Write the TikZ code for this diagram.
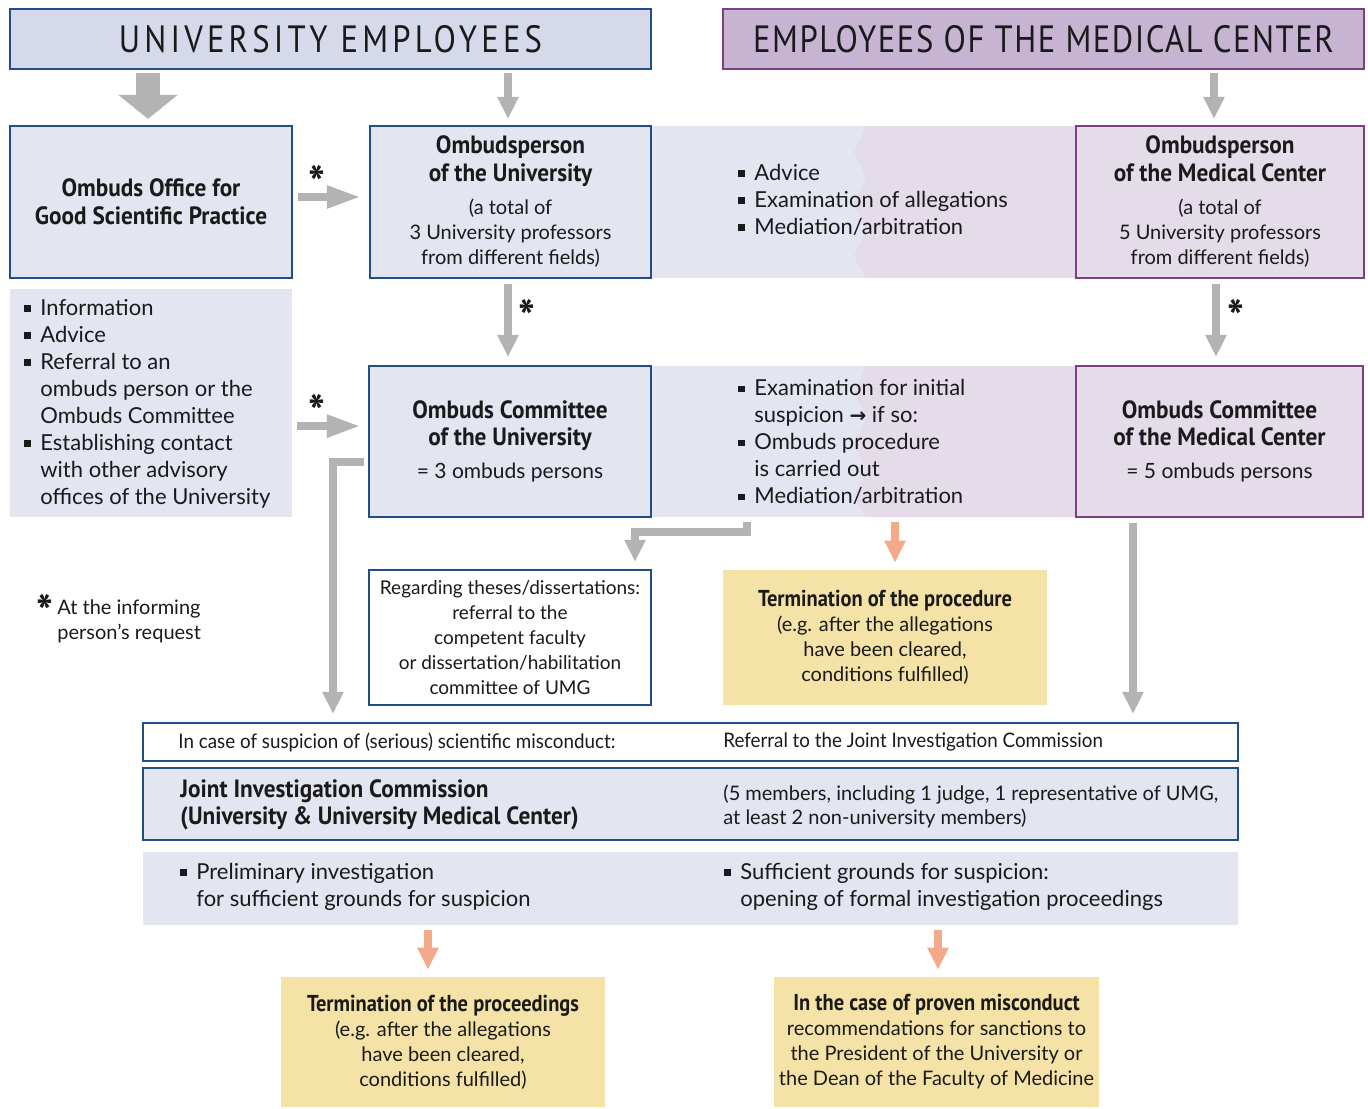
\documentclass[tikz,border=0pt]{standalone}
\usepackage{fontspec}
\setmainfont{Lato}
\newfontfamily\tfont{PT Sans}[FakeStretch=0.93]
\newfontfamily\yfont{PT Sans}[FakeStretch=0.89]
\newfontfamily\hfont{PT Sans}[FakeStretch=0.86,LetterSpace=11]
\newfontfamily\hfontb{PT Sans}[FakeStretch=0.86,LetterSpace=4]
\newfontfamily\cfont{Lato}[FakeStretch=0.94]
\newfontfamily\dvfont{DejaVu Sans}
\usetikzlibrary{arrows.meta}
\definecolor{bblue}{HTML}{1F4E89}
\definecolor{bpurp}{HTML}{7E3F82}
\definecolor{fblue}{HTML}{E3E5F0}
\definecolor{hblue}{HTML}{D6D9EA}
\definecolor{hpurp}{HTML}{C7B4D2}
\definecolor{fpurp}{HTML}{E5DCEA}
\definecolor{fyel}{HTML}{F5E2A6}
\definecolor{agrey}{HTML}{B3B3B3}
\definecolor{asal}{HTML}{F4A98B}
\definecolor{tx}{HTML}{1A1A1A}
\newcommand\mybul{\makebox[8pt][l]{\rule[1.6pt]{3.3pt}{3.3pt}}}
\newcommand\myind{\hspace*{8pt}}
\newcommand\mybt[1]{{\tfont\bfseries\fontsize{12.5}{14}\selectfont #1}}
\newcommand\myyt[1]{{\yfont\bfseries\fontsize{11.5}{14}\selectfont #1}}
\newcommand\mysm[1]{{\fontsize{10}{12.5}\selectfont #1}}
\newcommand\mymd[1]{{\fontsize{10.5}{13}\selectfont #1}}
\newcommand\mystar{{\tfont\bfseries\fontsize{24}{24}\selectfont *}}
\tikzset{
 every node/.style={inner sep=0pt, text=tx},
 ubox/.style={draw=bblue, fill=fblue, line width=1.1pt, align=center},
 mbox/.style={draw=bpurp, fill=fpurp, line width=1.1pt, align=center},
 ybox/.style={fill=fyel, align=center},
 wbox/.style={draw=bblue, fill=white, line width=1.1pt, align=center},
 sz/.style 2 args={minimum width=#1*0.5pt, minimum height=#2*0.5pt},
 ga/.style={draw=agrey, line width=4pt, -{Triangle[width=10pt,length=11pt]}},
 gah/.style={draw=agrey, line width=4pt, -{Triangle[width=10.5pt,length=17pt]}},
 gbig/.style={draw=agrey, line width=12pt, -{Triangle[width=29pt,length=12pt]}},
 sa/.style={draw=asal, line width=4pt, -{Triangle[width=10pt,length=11pt]}},
 lst/.style={align=left, anchor=west},
 smallf/.style={font=\fontsize{10}{12.5}\selectfont},
}
\begin{document}
\begin{tikzpicture}[x=0.5pt,y=-0.5pt, font=\fontsize{11}{13.5}\selectfont]
\useasboundingbox (0,0) rectangle (1368,1108);
% headers
\node[draw=bblue, fill=hblue, line width=1.1pt, sz={641}{60}] (hu) at (330.5,39)
  {\hfont\fontsize{19}{19}\selectfont UNIVERSITY EMPLOYEES};
\node[draw=bpurp, fill=hpurp, line width=1.1pt, sz={641}{60}] (hm) at (1043.5,39)
  {\hfontb\fontsize{19}{19}\selectfont EMPLOYEES OF THE MEDICAL CENTER};
% bands
\node[fill=fblue, sz={425}{152}] (band1) at (863.5,202) {};
\fill[fpurp] (1076,126) -- (866,126) -- (854,152) -- (866,178) -- (854,204) -- (866,230) -- (854,256) -- (866,278) -- (1076,278) -- cycle;
\node[fill=fblue, sz={425}{151}] (band2) at (863.5,441.5) {};
\fill[fpurp] (1076,366) -- (866,366) -- (854,392) -- (866,418) -- (854,444) -- (866,470) -- (854,496) -- (866,517) -- (1076,517) -- cycle;
\node[fill=fblue, sz={282}{228}] (info) at (151,403) {};
\node[fill=fblue, sz={1095}{73}] (pi) at (690.5,888.5) {};
% boxes
\node[ubox, sz={282}{152}, font=\fontsize{11}{14}\selectfont] (oo) at (151,202) {\mybt{Ombuds Office for}\\\mybt{Good Scientific Practice}};
\node[ubox, sz={281}{152}, smallf] (ou) at (510.5,202)
  {\mybt{Ombudsperson}\\[1.5pt]\mybt{of the University}\\[4pt]\mysm{(a total of}\\\mysm{3 University professors}\\\mysm{from different fields)}};
\node[mbox, sz={288}{152}, smallf] (om) at (1220,202)
  {\mybt{Ombudsperson}\\[1.5pt]\mybt{of the Medical Center}\\[4pt]\mysm{(a total of}\\\mysm{5 University professors}\\\mysm{from different fields)}};
\node[ubox, sz={282}{151}] (cu) at (510,441.5)
  {\mybt{Ombuds Committee}\\\mybt{of the University}\\[3pt]\mymd{= 3 ombuds persons}};
\node[mbox, sz={287}{151}] (cm) at (1219.5,441.5)
  {\mybt{Ombuds Committee}\\\mybt{of the Medical Center}\\[3pt]\mymd{= 5 ombuds persons}};
\node[wbox, sz={282}{135}, font=\fontsize{9.5}{12.4}\selectfont] (th) at (510,637.5)
  {Regarding theses/dissertations:\\referral to the\\competent faculty\\or dissertation/habilitation\\committee of UMG};
\node[ybox, sz={324}{135}, smallf] (tp) at (885,637.5)
  {\myyt{Termination of the procedure}\\(e.g. after the allegations\\have been cleared,\\conditions fulfilled)};
\node[wbox, sz={1095}{38}] (ic) at (690.5,742) {};
\node[ubox, sz={1095}{72}, line width=1.4pt] (jc) at (690.5,804) {};
\node[ybox, sz={324}{130}, smallf] (tpr) at (443,1042)
  {\myyt{Termination of the proceedings}\\(e.g. after the allegations\\have been cleared,\\conditions fulfilled)};
\node[ybox, sz={325}{130}, smallf] (pm) at (936.5,1042)
  {\myyt{In the case of proven misconduct}\\recommendations for sanctions to\\the President of the University or\\the Dean of the Faculty of Medicine};
% texts
\node[lst] (t1) at (738,199.5) {\mybul Advice\\\mybul Examination of allegations\\\mybul Mediation/arbitration};
\node[lst] (t2) at (24,403.5) {\mybul Information\\\mybul Advice\\\mybul Referral to an\\\myind ombuds person or the\\\myind Ombuds Committee\\\mybul Establishing contact\\\myind with other advisory\\\myind offices of the University};
\node[lst] (t3) at (738,442) {\mybul Examination for initial\\\myind suspicion {\dvfont\bfseries\fontsize{10}{12}\selectfont →} if so:\\\mybul Ombuds procedure\\\myind is carried out\\\mybul Mediation/arbitration};
\node[anchor=west, font=\cfont\fontsize{10}{12.5}\selectfont] (t4) at (178,742) {In case of suspicion of (serious) scientific misconduct:};
\node[anchor=west, font=\cfont\fontsize{10}{12.5}\selectfont] (t5) at (723,742) {Referral to the Joint Investigation Commission};
\node[lst, font=\tfont\bfseries\fontsize{12.5}{13.5}\selectfont] (t6) at (180,804.5) {Joint Investigation Commission\\(University \& University Medical Center)};
\node[lst, font=\fontsize{10}{12}\selectfont] (t7) at (723,806) {(5 members, including 1 judge, 1 representative of UMG,\\at least 2 non-university members)};
\node[lst] (t8) at (180,886.5) {\mybul Preliminary investigation\\\myind for sufficient grounds for suspicion};
\node[lst] (t9) at (724,886.5) {\mybul Sufficient grounds for suspicion:\\\myind opening of formal investigation proceedings};
\node[lst, smallf] (fn) at (57,621.5) {At the informing\\person's request};
\node (fs) at (45,612) {\mystar};
% stars
\node (s1) at (317,183) {\mystar};
\node (s2) at (317,412) {\mystar};
\node (s3) at (527,317) {\mystar};
\node (s4) at (1236,317) {\mystar};
% arrows
\draw[gbig, shorten <=1.5pt, shorten >=3pt] (hu.south -| 148,0) -- (oo.north -| 148,0);
\draw[ga, shorten <=1.5pt, shorten >=3pt] (hu.south -| 508,0) -- (ou.north -| 508,0);
\draw[ga, shorten <=1.5pt, shorten >=3pt] (hm.south -| 1214,0) -- (om.north -| 1214,0);
\draw[gah, shorten <=2.5pt, shorten >=4pt] ([yshift=2.5pt]ou.west -| oo.east) -- ([yshift=2.5pt]ou.west);
\draw[gah, shorten <=2.5pt, shorten >=3.5pt] ([yshift=7.7pt]cu.west -| info.east) -- ([yshift=7.7pt]cu.west);
\draw[ga, shorten <=2.5pt, shorten >=4pt] (ou.south -| 508,0) -- (cu.north -| 508,0);
\draw[ga, shorten <=2.5pt, shorten >=4pt] (om.south -| 1216,0) -- (cm.north -| 1216,0);
\coordinate (lb) at (333,462);
\draw[ga, shorten >=4pt] ([xshift=-2pt]cu.west |- lb) -- (lb) -- (lb |- ic.north);
\coordinate (mb1) at (747,532);
\coordinate (mb2) at (635,532);
\draw[ga, shorten <=2.5pt, shorten >=3.5pt] (band2.south -| mb1) -- (mb1) -- (mb2) -- (th.north -| mb2);
\coordinate (sx) at (895,0);
\draw[sa, shorten <=2.5pt, shorten >=3.5pt] (band2.south -| sx) -- (tp.north -| sx);
\coordinate (rx) at (1133,0);
\draw[ga, shorten <=2.5pt, shorten >=4pt] (cm.south -| rx) -- (ic.north -| rx);
\coordinate (b1) at (428,0);
\coordinate (b2) at (938,0);
\draw[sa, shorten <=2.5pt, shorten >=3.5pt] (pi.south -| b1) -- (tpr.north -| b1);
\draw[sa, shorten <=2.5pt, shorten >=3.5pt] (pi.south -| b2) -- (pm.north -| b2);
\end{tikzpicture}
\end{document}
